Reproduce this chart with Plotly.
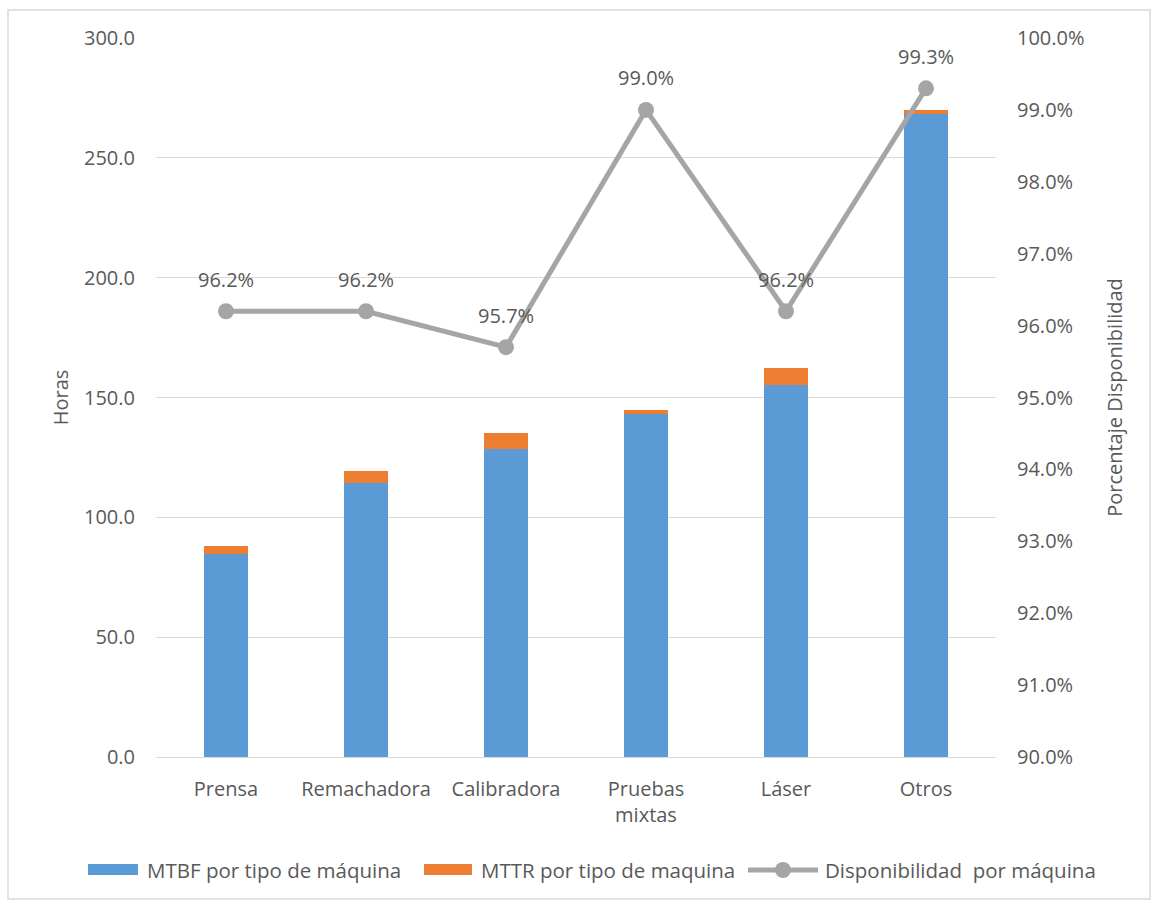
import plotly.graph_objects as go

categorias = ["Prensa", "Remachadora", "Calibradora", "Pruebas<br>mixtas", "Láser", "Otros"]
mtbf = [84.6, 114.4, 128.7, 143.0, 155.4, 268.1]
mttr = [3.4, 4.8, 6.6, 1.8, 6.8, 1.9]
disponibilidad = [96.2, 96.2, 95.7, 99.0, 96.2, 99.3]

horas_ticks = [0, 50, 100, 150, 200, 250, 300]
pct_ticks = [90, 91, 92, 93, 94, 95, 96, 97, 98, 99, 100]

nombres = ["MTBF por tipo de máquina", "MTTR por tipo de maquina", "Disponibilidad  por máquina"]
AZUL, NARANJA, GRIS = "#5B9BD5", "#ED7D31", "#A5A5A5"

FONT = "Open Sans, DejaVu Sans, sans-serif"
FS = 20
TXT = "#595959"

W, H = 1153, 904
L, R, T, B = 156, 157, 38, 147
pw, ph = W - L - R, H - T - B


def px_x(v):
    return (v - L) / pw


def px_y(v):
    return (H - B - v) / ph


fig = go.Figure()
fig.add_trace(go.Bar(
    x=categorias, y=mtbf, name=nombres[0],
    marker=dict(color=AZUL, line=dict(width=0)), width=0.32,
))
fig.add_trace(go.Bar(
    x=categorias, y=mttr, name=nombres[1],
    marker=dict(color=NARANJA, line=dict(width=0)), width=0.32,
))
fig.add_trace(go.Scatter(
    x=categorias, y=disponibilidad, yaxis="y2", name=nombres[2],
    mode="lines+markers",
    line=dict(color=GRIS, width=5),
    marker=dict(color=GRIS, size=16),
))

# percentage labels above the availability markers
for c, v in zip(categorias, disponibilidad):
    fig.add_annotation(
        x=c, y=v, yref="y2", text=f"{v:.1f}%", showarrow=False,
        yshift=32, font=dict(family=FONT, size=FS, color=TXT),
    )

# chart frame
fig.add_shape(
    type="rect", xref="paper", yref="paper",
    x0=px_x(8), x1=px_x(1150), y0=px_y(899), y1=px_y(10),
    line=dict(color="#D9D9D9", width=1.5), fillcolor="rgba(0,0,0,0)", layer="below",
)

# legend row
ly = 870
fig.add_shape(type="rect", xref="paper", yref="paper",
              x0=px_x(88), x1=px_x(138), y0=px_y(875), y1=px_y(864),
              line=dict(width=0), fillcolor=AZUL)
fig.add_shape(type="rect", xref="paper", yref="paper",
              x0=px_x(424), x1=px_x(472), y0=px_y(875), y1=px_y(864),
              line=dict(width=0), fillcolor=NARANJA)
fig.add_shape(type="line", xref="paper", yref="paper",
              x0=px_x(748), x1=px_x(818), y0=px_y(ly), y1=px_y(ly),
              line=dict(color=GRIS, width=5))
fig.add_shape(type="circle", xref="paper", yref="paper",
              x0=px_x(775), x1=px_x(791), y0=px_y(878), y1=px_y(862),
              line=dict(width=0), fillcolor=GRIS)
for x_txt, nombre in zip([145, 479, 823], nombres):
    fig.add_annotation(
        xref="paper", yref="paper", x=px_x(x_txt), y=px_y(ly),
        xanchor="left", yanchor="middle", text=nombre, showarrow=False,
        font=dict(family=FONT, size=FS + 0.5, color=TXT),
    )

fig.update_layout(
    width=W, height=H,
    margin=dict(l=L, r=R, t=T, b=B, autoexpand=False),
    barmode="stack",
    showlegend=False,
    paper_bgcolor="white", plot_bgcolor="white",
    font=dict(family=FONT, size=FS, color=TXT),
    xaxis=dict(
        showgrid=False, showline=True, linecolor="#D9D9D9", linewidth=1,
        tickfont=dict(size=FS, color=TXT), ticks="", ticklabelstandoff=14,
        automargin=False,
    ),
    yaxis=dict(
        range=[0, 300], tickvals=horas_ticks,
        ticktext=[f"{v:.1f}" for v in horas_ticks],
        showgrid=True, gridcolor="#D9D9D9", gridwidth=1, zeroline=False,
        showline=False, ticks="", ticklabelstandoff=20, automargin=False,
        title=dict(text="Horas", font=dict(size=FS, color=TXT), standoff=10),
    ),
    yaxis2=dict(
        overlaying="y", side="right", range=[90, 100], tickvals=pct_ticks,
        ticktext=[f"{v:.1f}%" for v in pct_ticks],
        showgrid=False, zeroline=False, showline=False, ticks="",
        ticklabelstandoff=20, automargin=False,
        title=dict(text="Porcentaje Disponibilidad", font=dict(size=FS, color=TXT), standoff=24),
    ),
)

fig.write_html("out.html")
